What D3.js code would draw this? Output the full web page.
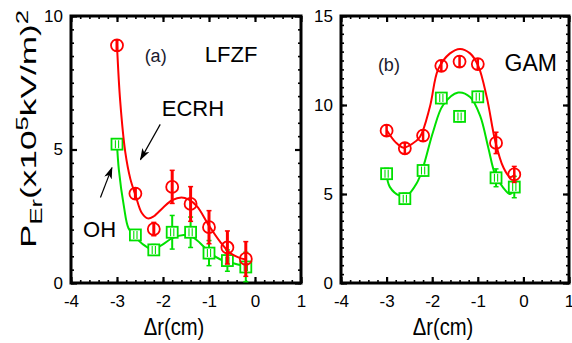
<!DOCTYPE html>
<html>
<head>
<meta charset="utf-8">
<script src="https://cdn.jsdelivr.net/npm/d3@7"></script>
<style>
    body { margin: 0; background: #fff; }
    svg { display: block; font-family: "Liberation Sans", Arial, sans-serif; }
</style>
</head>
<body>
<div id="chart"></div>
<script>
// radial position of the probe points (cm)
const dr = [-3.0, -2.6, -2.2, -1.8, -1.4, -1.0, -0.6, -0.2];

// (a) LFZF
const lfzfEcrh = [8.9, 3.35, 2.02, 3.6, 2.96, 2.09, 1.33, 0.9];
const lfzfEcrhErr = [0.2, 0.2, 0.25, 0.62, 0.65, 0.62, 0.62, 0.65];
const lfzfOh = [5.2, 1.8, 1.24, 1.9, 1.9, 1.12, 0.84, 0.6];
const lfzfOhErr = [0.15, 0.15, 0.2, 0.63, 0.57, 0.47, 0.4, 0.55];

// (b) GAM
const gamEcrh = [8.56, 7.57, 8.28, 12.2, 12.44, 12.3, 7.87, 6.1];
const gamEcrhErr = [0.3, 0.3, 0.3, 0.3, 0.3, 0.3, 0.6, 0.45];
const gamOh = [6.14, 4.74, 6.32, 10.39, 9.36, 10.46, 5.91, 5.39];
const gamOhErr = [0.3, 0.3, 0.3, 0.3, 0.3, 0.3, 0.5, 0.6];

// smooth fit curves
const lfzfEcrhFitX = [-3.0, -2.93, -2.82, -2.71, -2.6, -2.46, -2.33, -2.2, -2.0, -1.8, -1.6, -1.44, -1.26, -1.0, -0.76, -0.54, -0.35, -0.2];
const lfzfEcrhFitY = [8.9, 6.8, 4.9, 3.9, 3.3, 2.62, 2.42, 2.5, 2.82, 3.1, 3.2, 3.12, 2.87, 2.15, 1.55, 1.12, 0.95, 0.88];
const lfzfOhFitX = [-3.0, -2.96, -2.85, -2.75, -2.6, -2.42, -2.24, -2.02, -1.8, -1.55, -1.37, -1.19, -0.97, -0.76, -0.47, -0.18];
const lfzfOhFitY = [5.2, 4.25, 2.87, 2.05, 1.72, 1.43, 1.27, 1.43, 1.68, 1.8, 1.74, 1.49, 1.12, 0.89, 0.74, 0.61];
const gamEcrhFitX = [-3.0, -2.8, -2.63, -2.45, -2.27, -2.05, -1.87, -1.61, -1.39, -1.17, -0.99, -0.8, -0.62, -0.44, -0.29, -0.18];
const gamEcrhFitY = [8.6, 7.9, 7.6, 7.8, 8.2, 9.9, 12.0, 12.9, 13.15, 12.9, 12.2, 10.4, 8.0, 6.5, 5.95, 6.1];
const gamOhFitX = [-3.0, -2.93, -2.71, -2.56, -2.34, -2.2, -1.98, -1.76, -1.43, -1.17, -0.95, -0.77, -0.62, -0.44, -0.29, -0.18];
const gamOhFitY = [6.1, 5.4, 4.9, 4.9, 5.6, 6.5, 8.5, 10.0, 10.7, 10.45, 9.4, 7.6, 6.1, 5.35, 5.0, 5.35];

// axis ticks
const xTicks = [-4, -3, -2, -1, 0, 1];
const lfzfYTicks = [0, 5, 10];
const gamYTicks = [0, 5, 10, 15];

const RED = "#ff0000";
const GREEN = "#00e000";

class ProfilePanel {
    constructor(svg, config) {
        this.svg = svg;
        this.left = config.left;
        this.top = config.top;
        this.width = config.width;
        this.height = config.height;
        this.yTicks = config.yTicks;
        this.series = config.series;
        this.labels = config.labels;
        this.arrows = config.arrows || [];
        this.initVis();
    }

    initVis() {
        let vis = this;

        vis.g = vis.svg.append("g")
            .attr("transform", `translate(${vis.left},${vis.top})`);

        vis.x = d3.scaleLinear().domain([-4, 1]).range([0, vis.width]);
        vis.y = d3.scaleLinear()
            .domain([0, d3.max(vis.yTicks)])
            .range([vis.height, 0]);

        vis.drawAxes();
        vis.updateVis();
    }

    drawAxes() {
        let vis = this;
        const minorX = d3.range(-4, 1.001, 0.2);
        const minorY = d3.range(0, d3.max(vis.yTicks) + 0.001, 0.5);

        // minor ticks, all four sides, pointing in
        const minors = [
            [d3.axisBottom(vis.x).tickValues(minorX), `translate(0,${vis.height})`],
            [d3.axisTop(vis.x).tickValues(minorX), null],
            [d3.axisLeft(vis.y).tickValues(minorY), null],
            [d3.axisRight(vis.y).tickValues(minorY), `translate(${vis.width},0)`]
        ];
        minors.forEach(([ax, tr]) => {
            const a = vis.g.append("g").attr("class", "minor")
                .call(ax.tickSize(-3).tickFormat(""));
            if (tr) a.attr("transform", tr);
        });

        // major ticks
        const xb = vis.g.append("g")
            .attr("transform", `translate(0,${vis.height})`)
            .call(d3.axisBottom(vis.x).tickValues(xTicks).tickSize(-6).tickPadding(12).tickFormat(d3.format("d")));
        vis.g.append("g")
            .call(d3.axisTop(vis.x).tickValues(xTicks).tickSize(-6).tickFormat(""));
        vis.g.append("g")
            .call(d3.axisLeft(vis.y).tickValues(vis.yTicks).tickSize(-6).tickPadding(8).tickFormat(d3.format("d")));
        vis.g.append("g")
            .attr("transform", `translate(${vis.width},0)`)
            .call(d3.axisRight(vis.y).tickValues(vis.yTicks).tickSize(-6).tickFormat(""));

        vis.g.selectAll(".domain").remove();
        vis.g.selectAll(".tick line").attr("stroke", "#000").attr("stroke-width", 2.2);
        vis.g.selectAll(".minor .tick line").attr("stroke-width", 1.6);
        vis.g.selectAll(".tick text")
            .attr("fill", "#000")
            .style("font-size", "17px")
            .style("font-family", "'Liberation Sans', Arial, sans-serif");
        xb.selectAll(".tick text").text(d => d < 0 ? "-" + Math.abs(d) : d);

        // frame
        vis.g.append("rect")
            .attr("width", vis.width)
            .attr("height", vis.height)
            .attr("fill", "none")
            .attr("stroke", "#000")
            .attr("stroke-width", 3);

        // x title
        vis.g.append("text")
            .attr("x", vis.width / 2 - 12)
            .attr("y", vis.height + 52)
            .attr("text-anchor", "middle")
            .style("font-size", "23px")
            .attr("transform", `translate(${(vis.width / 2 - 12) * 0.12},0) scale(0.88,1)`)
            .text("\u0394r(cm)");
    }

    updateVis() {
        let vis = this;

        const line = d3.line()
            .x(d => vis.x(d[0]))
            .y(d => vis.y(d[1]))
            .curve(d3.curveCatmullRom.alpha(0.5));

        vis.series.forEach(s => {
            const fit = d3.zip(s.fitX, s.fitY);
            vis.g.append("path")
                .datum(fit)
                .attr("d", line)
                .attr("fill", "none")
                .attr("stroke", s.color)
                .attr("stroke-width", 2);

            const pts = dr.map((d, i) => ({ x: d, v: s.values[i], e: s.errors[i] }));

            // error bars
            const eb = vis.g.append("g").selectAll("g")
                .data(pts)
                .enter()
                .append("g");
            eb.append("line")
                .attr("x1", d => vis.x(d.x)).attr("x2", d => vis.x(d.x))
                .attr("y1", d => vis.y(d.v - d.e)).attr("y2", d => vis.y(d.v + d.e))
                .attr("stroke", s.color).attr("stroke-width", s.barWidth);
            [-1, 1].forEach(sign => {
                eb.append("line")
                    .attr("x1", d => vis.x(d.x) - 2.5).attr("x2", d => vis.x(d.x) + 2.5)
                    .attr("y1", d => vis.y(d.v + sign * d.e)).attr("y2", d => vis.y(d.v + sign * d.e))
                    .attr("stroke", s.color).attr("stroke-width", 1.5);
            });

            // markers
            if (s.marker === "circle") {
                vis.g.append("g").selectAll("circle")
                    .data(pts)
                    .enter()
                    .append("circle")
                    .attr("cx", d => vis.x(d.x))
                    .attr("cy", d => vis.y(d.v))
                    .attr("r", 6)
                    .attr("fill", "none")
                    .attr("stroke", s.color)
                    .attr("stroke-width", 1.8);
            } else {
                const sq = vis.g.append("g").selectAll("g")
                    .data(pts)
                    .enter()
                    .append("g")
                    .attr("transform", d => `translate(${vis.x(d.x)},${vis.y(d.v)})`);
                sq.append("rect")
                    .attr("x", -5.5)
                    .attr("y", -5.5)
                    .attr("width", 11)
                    .attr("height", 11)
                    .attr("fill", "#fff")
                    .attr("stroke", s.color)
                    .attr("stroke-width", 1.8);
                // the "||" seen inside every square
                [-1.6, 1.6].forEach(dx => {
                    sq.append("line")
                        .attr("x1", dx).attr("x2", dx)
                        .attr("y1", -4).attr("y2", 4)
                        .attr("stroke", s.color)
                        .attr("stroke-width", 1.1);
                });
            }
        });

        // annotations
        vis.labels.forEach(l => {
            vis.g.append("text")
                .attr("x", vis.x(l.x))
                .attr("y", vis.y(l.y))
                .attr("text-anchor", "middle")
                .attr("fill", l.color || "#000")
                .style("font-size", l.size + "px")
                .text(l.text);
        });

        vis.arrows.forEach(a => {
            vis.g.append("line")
                .attr("x1", vis.x(a.from[0])).attr("y1", vis.y(a.from[1]))
                .attr("x2", vis.x(a.to[0])).attr("y2", vis.y(a.to[1]))
                .attr("stroke", "#000")
                .attr("stroke-width", 1.2)
                .attr("marker-end", "url(#arrowhead)");
        });
    }
}

const svg = d3.select("#chart").append("svg")
    .attr("width", 572)
    .attr("height", 343);

svg.append("defs").append("marker")
    .attr("id", "arrowhead")
    .attr("viewBox", "0 0 12 8")
    .attr("refX", 11)
    .attr("refY", 4)
    .attr("markerWidth", 12)
    .attr("markerHeight", 8)
    .attr("markerUnits", "userSpaceOnUse")
    .attr("orient", "auto")
    .append("path")
    .attr("d", "M0,0 L12,4 L0,8 L3,4 Z")
    .attr("fill", "#000");

const panelA = new ProfilePanel(svg, {
    left: 71, top: 16, width: 230, height: 267,
    yTicks: lfzfYTicks,
    series: [
        { values: lfzfOh, errors: lfzfOhErr, fitX: lfzfOhFitX, fitY: lfzfOhFitY, color: GREEN, marker: "square", barWidth: 2 },
        { values: lfzfEcrh, errors: lfzfEcrhErr, fitX: lfzfEcrhFitX, fitY: lfzfEcrhFitY, color: RED, marker: "circle", barWidth: 3 }
    ],
    labels: [
        { text: "(a)", x: -2.16, y: 8.27, size: 18, color: "#1a1a2e" },
        { text: "LFZF", x: -0.52, y: 8.27, size: 22 },
        { text: "ECRH", x: -1.35, y: 6.24, size: 22 },
        { text: "OH", x: -3.38, y: 1.73, size: 22 }
    ],
    arrows: [
        { from: [-2.06, 5.94], to: [-2.49, 4.62] },
        { from: [-3.36, 3.2], to: [-3.11, 4.32] }
    ]
});

const panelB = new ProfilePanel(svg, {
    left: 341, top: 16, width: 228, height: 267,
    yTicks: gamYTicks,
    series: [
        { values: gamOh, errors: gamOhErr, fitX: gamOhFitX, fitY: gamOhFitY, color: GREEN, marker: "square", barWidth: 2 },
        { values: gamEcrh, errors: gamEcrhErr, fitX: gamEcrhFitX, fitY: gamEcrhFitY, color: RED, marker: "circle", barWidth: 2.5 }
    ],
    labels: [
        { text: "(b)", x: -2.95, y: 11.9, size: 18, color: "#1a1a2e" },
        { text: "GAM", x: 0.16, y: 11.9, size: 23 }
    ]
});

// y title, stretched along its length like the original
const yTitle = svg.append("text")
    .attr("text-anchor", "middle")
    .style("font-size", "22px");
yTitle.append("tspan").text("P");
yTitle.append("tspan").attr("dy", 6).style("font-size", "16px").text("Er");
yTitle.append("tspan").attr("dy", -6).text("(x10");
yTitle.append("tspan").attr("dy", -8).style("font-size", "16px").text("5");
yTitle.append("tspan").attr("dy", 8).text("kV/m)");
yTitle.append("tspan").attr("dy", -8).style("font-size", "16px").text("2");

const titleLen = yTitle.node().getComputedTextLength();
yTitle.attr("transform", `translate(36,129) rotate(-90) scale(${238 / titleLen},1)`);
</script>
</body>
</html>
